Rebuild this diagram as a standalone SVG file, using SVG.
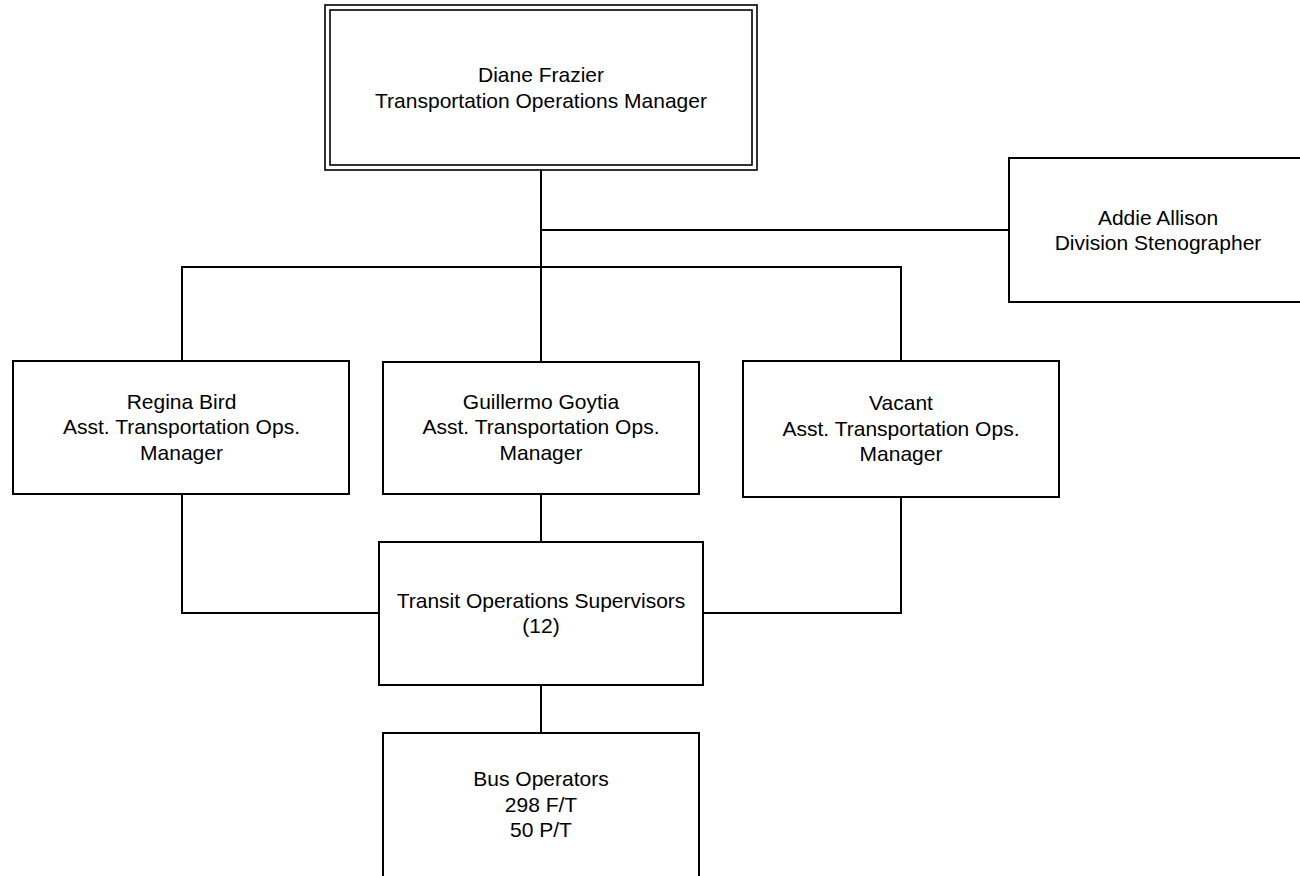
<svg xmlns="http://www.w3.org/2000/svg" width="1300" height="876" viewBox="0 0 1300 876">
<style>
.box{fill:#fff;stroke:#000;stroke-width:2}
.dbl{fill:none;stroke:#000;stroke-width:1.6}
.conn line{stroke:#000;stroke-width:2}
.conn polyline{fill:none;stroke:#000;stroke-width:2}
text{font-family:"Liberation Sans",Arial,sans-serif;font-size:21px;fill:#000;text-anchor:middle}
</style>
<rect width="1300" height="876" fill="#fff"/>
<g id="connectors" class="conn">
<line x1="541" y1="170" x2="541" y2="362"/>
<line x1="541" y1="230" x2="1009" y2="230"/>
<polyline points="182,361 182,267 901,267 901,361"/>
<polyline points="182,494 182,613 379,613"/>
<polyline points="901,497 901,613 703,613"/>
<line x1="541" y1="494" x2="541" y2="542"/>
<line x1="541" y1="685" x2="541" y2="733"/>
</g>
<g id="diane">
<rect x="325" y="5" width="432" height="165" class="dbl"/>
<rect x="330" y="10" width="422" height="155" class="dbl"/>
<text x="541" y="82">Diane Frazier</text>
<text x="541" y="107.5">Transportation Operations Manager</text>
</g>
<g id="addie">
<rect x="1009" y="158" width="310" height="144" class="box"/>
<text x="1158" y="224.5">Addie Allison</text>
<text x="1158" y="250">Division Stenographer</text>
</g>
<g id="regina">
<rect x="13" y="361" width="336" height="133" class="box"/>
<text x="181.5" y="408.5">Regina Bird</text>
<text x="181.5" y="434">Asst. Transportation Ops.</text>
<text x="181.5" y="459.5">Manager</text>
</g>
<g id="guillermo">
<rect x="383" y="362" width="316" height="132" class="box"/>
<text x="541" y="408.5">Guillermo Goytia</text>
<text x="541" y="434">Asst. Transportation Ops.</text>
<text x="541" y="459.5">Manager</text>
</g>
<g id="vacant">
<rect x="743" y="361" width="316" height="136" class="box"/>
<text x="901" y="410">Vacant</text>
<text x="901" y="435.5">Asst. Transportation Ops.</text>
<text x="901" y="461">Manager</text>
</g>
<g id="supervisors">
<rect x="379" y="542" width="324" height="143" class="box"/>
<text x="541" y="607.5">Transit Operations Supervisors</text>
<text x="541" y="633">(12)</text>
</g>
<g id="bus">
<rect x="383" y="733" width="316" height="160" class="box"/>
<text x="541" y="786">Bus Operators</text>
<text x="541" y="811.5">298 F/T</text>
<text x="541" y="837">50 P/T</text>
</g>
</svg>
